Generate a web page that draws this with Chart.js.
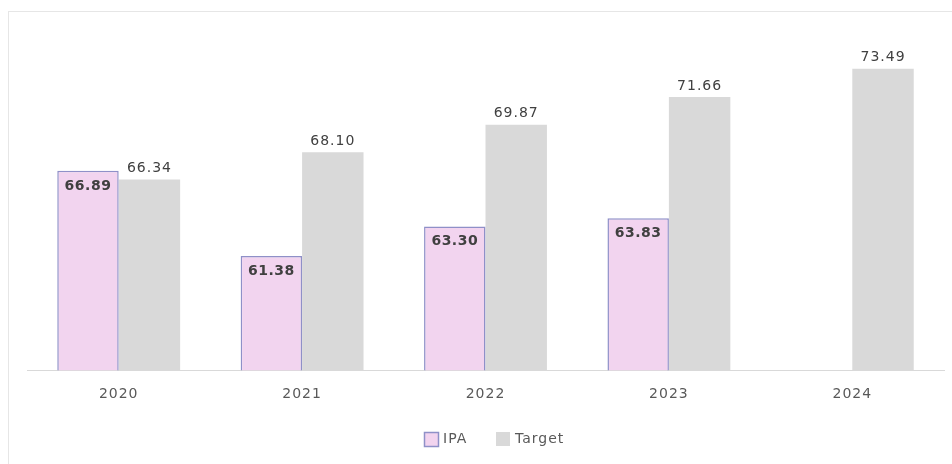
<!DOCTYPE html>
<html>
<head>
<meta charset="utf-8">
<script src="https://cdn.jsdelivr.net/npm/chart.js@4.4.1/dist/chart.umd.min.js"></script>
<style>
  html, body { margin: 0; padding: 0; background: #ffffff; }
  #wrap { position: relative; width: 952px; height: 464px; overflow: hidden; }
  #panel { position: absolute; left: 8px; top: 11px; width: 960px; height: 470px;
           border-left: 1px solid #e6e6e6; border-top: 1px solid #e6e6e6; }
  #c { position: absolute; left: 0; top: 0; }
</style>
</head>
<body>
<div id="wrap">
  <div id="panel"></div>
  <canvas id="c" width="952" height="464"></canvas>
</div>
<script>
const categories = ["2020", "2021", "2022", "2023", "2024"];
const ipaValues = [66.89, 61.38, 63.30, 63.83, null];
const targetValues = [66.34, 68.10, 69.87, 71.66, 73.49];
const seriesNames = ["IPA", "Target"];

const FONT = "'DejaVu Sans', Verdana, sans-serif";
const IPA_FILL = '#f2d4ef';
const IPA_BORDER = '#8f90c8';
const TARGET_FILL = '#d9d9d9';

const spacing = {
  id: 'spacing',
  beforeDraw(chart) { chart.ctx.letterSpacing = '1px'; }
};

const valueLabels = {
  id: 'valueLabels',
  afterDatasetsDraw(chart) {
    const ctx = chart.ctx;
    ctx.save();
    ctx.textAlign = 'center';
    ctx.textBaseline = 'middle';
    chart.data.datasets.forEach((ds, di) => {
      const meta = chart.getDatasetMeta(di);
      meta.data.forEach((bar, i) => {
        const v = ds.data[i];
        if (v === null || v === undefined) return;
        ctx.fillStyle = '#404040';
        if (di === 0) {
          ctx.letterSpacing = '0.5px';
          ctx.font = "bold 14px " + FONT;
          ctx.fillText(v.toFixed(2), bar.x, bar.y + 15);
        } else {
          ctx.letterSpacing = '1px';
          ctx.font = "14px " + FONT;
          ctx.fillText(v.toFixed(2), bar.x, bar.y - 11);
        }
      });
    });
    ctx.restore();
  }
};

const customLegend = {
  id: 'customLegend',
  afterDraw(chart) {
    const ctx = chart.ctx;
    ctx.save();
    ctx.letterSpacing = '1px';
    ctx.font = "14px " + FONT;
    ctx.textBaseline = 'middle';
    ctx.textAlign = 'left';
    const y = 439;
    ctx.fillStyle = IPA_FILL;
    ctx.fillRect(424.5, 432.5, 14, 14);
    ctx.strokeStyle = IPA_BORDER;
    ctx.lineWidth = 1.5;
    ctx.strokeRect(424.5, 432.5, 14, 14);
    ctx.fillStyle = '#595959';
    ctx.fillText(seriesNames[0], 443, y);
    ctx.fillStyle = TARGET_FILL;
    ctx.fillRect(496, 432, 14, 14);
    ctx.fillStyle = '#595959';
    ctx.fillText(seriesNames[1], 515, y);
    ctx.restore();
  }
};

new Chart(document.getElementById('c'), {
  type: 'bar',
  data: {
    labels: categories,
    datasets: [
      {
        label: seriesNames[0],
        data: ipaValues,
        backgroundColor: IPA_FILL,
        borderColor: IPA_BORDER,
        borderWidth: 1.5,
        borderSkipped: 'bottom',
        categoryPercentage: 0.67,
        barPercentage: 1.0
      },
      {
        label: seriesNames[1],
        data: targetValues,
        backgroundColor: TARGET_FILL,
        borderWidth: 0,
        categoryPercentage: 0.67,
        barPercentage: 1.0
      }
    ]
  },
  options: {
    responsive: false,
    animation: false,
    devicePixelRatio: 1,
    layout: { padding: { left: 27, right: 8, top: 30, bottom: 45 } },
    scales: {
      y: { display: false, min: 54, max: 76 },
      x: {
        grid: { display: false, drawTicks: false },
        border: { display: true, color: '#d9d9d9', width: 1 },
        ticks: { color: '#595959', font: { family: FONT, size: 14, lineHeight: 1.2 }, padding: 16 }
      }
    },
    plugins: {
      legend: { display: false },
      tooltip: { enabled: false }
    }
  },
  plugins: [spacing, valueLabels, customLegend]
});
</script>
</body>
</html>
